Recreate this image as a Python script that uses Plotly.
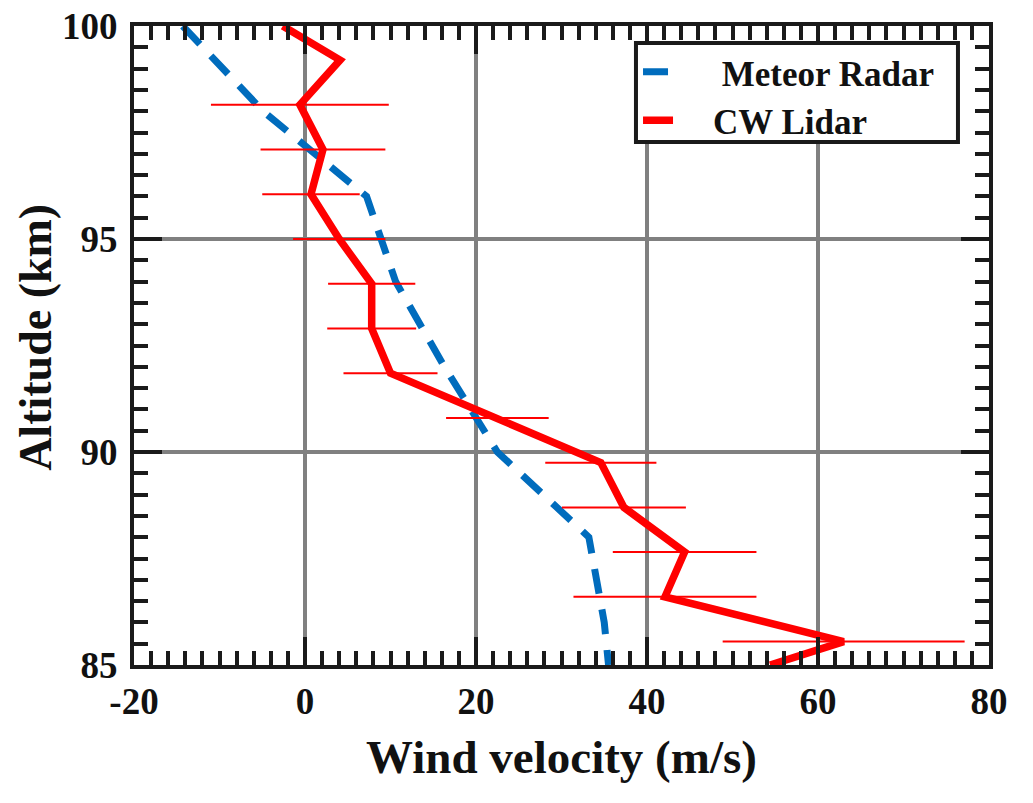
import plotly.graph_objects as go

# Meteor radar profile
meteor_alt = [100, 98, 96, 94, 92, 90, 88, 86, 85]
meteor_wind = [-14.3, -4.9, 7.2, 10.6, 16.3, 22.5, 33.2, 35.0, 35.5]

# CW lidar profile with horizontal error bars
lidar_alt = [100.0, 99.2, 98.15, 97.1, 96.05, 95.0, 93.95, 92.9, 91.85, 90.8,
             89.75, 88.7, 87.65, 86.6, 85.55, 85.0]
lidar_wind = [-2.6, 4.1, -0.6, 2.1, 0.7, 4.0, 7.8, 7.8, 10.0, 22.5,
              34.6, 37.3, 44.4, 42.1, 63.0, 54.4]
lidar_err = [0, 0, 10.4, 7.3, 5.7, 5.4, 5.1, 5.2, 5.5, 6.0,
             6.5, 7.25, 8.4, 10.7, 14.15, 0]

x_ticks = [-20, 0, 20, 40, 60, 80]
x_labels = ["-20", "0", "20", "40", "60", "80"]
y_ticks = [85, 90, 95, 100]
y_labels = ["85", "90", "95", "100"]

FONT = "Liberation Serif"
AX = "#1a1a1a"
TXT = "#111111"
NB = "\u00a0"

fig = go.Figure()
fig.add_trace(go.Scatter(
    x=meteor_wind, y=meteor_alt, mode="lines",
    name=NB * 5 + "Meteor Radar",
    line=dict(color="#006CBD", width=7, dash="25px,16px"),
))
fig.add_trace(go.Scatter(
    x=lidar_wind, y=lidar_alt, mode="lines",
    name=NB * 4 + "CW Lidar",
    line=dict(color="#FF0000", width=7.5),
    error_x=dict(type="data", array=lidar_err, symmetric=True,
                 color="#FF0000", thickness=2, width=0),
))

axis_common = dict(
    showline=True, linewidth=4, linecolor=AX, mirror="allticks",
    ticks="inside", ticklen=28, tickwidth=3.5, tickcolor=AX,
    showgrid=True, gridcolor="#808080", gridwidth=3.5, zeroline=False,
    tickfont=dict(family=FONT, size=37, color=TXT, weight="bold"),
    automargin=False, ticklabeloverflow="allow",
)

fig.update_xaxes(
    range=[-20, 80], tickvals=x_ticks, ticktext=x_labels,
    ticklabelstandoff=1,
    minor=dict(dtick=2, ticks="inside", ticklen=14, tickwidth=3.5,
               tickcolor=AX, showgrid=False),
    title=dict(text="Wind velocity (m/s)",
               font=dict(family=FONT, size=47, color=TXT, weight="bold"),
               standoff=20),
    **axis_common,
)
fig.update_yaxes(
    range=[85, 100], tickvals=y_ticks, ticktext=y_labels,
    ticklabelstandoff=5,
    minor=dict(dtick=0.5, ticks="inside", ticklen=14, tickwidth=3.5,
               tickcolor=AX, showgrid=False),
    **axis_common,
)

# y-axis title placed as a rotated annotation for exact positioning
fig.add_annotation(
    text="Altitude (km)", xref="paper", yref="paper",
    x=-0.1146, y=0.512, xanchor="center", yanchor="middle",
    textangle=-90, showarrow=False,
    font=dict(family=FONT, size=46, color=TXT, weight="bold"),
)

# legend frame
fig.add_shape(type="rect", xref="paper", yref="paper",
              x0=0.5871, x1=0.9637, y0=0.8185, y1=0.9734,
              fillcolor="white", line=dict(color=AX, width=4), layer="above")

fig.update_layout(
    width=1033, height=803,
    margin=dict(l=134, r=44, t=26, b=138),
    paper_bgcolor="white", plot_bgcolor="white",
    showlegend=True,
    legend=dict(
        x=0.5895, y=0.9740, xanchor="left", yanchor="top",
        bgcolor="rgba(0,0,0,0)", borderwidth=0,
        font=dict(family=FONT, size=35, color=TXT, weight="bold"),
        itemwidth=30, tracegroupgap=0,
    ),
)

fig.write_html(
    "out.html",
    config={"displayModeBar": False},
    post_script="document.body.style.margin='0';",
)
